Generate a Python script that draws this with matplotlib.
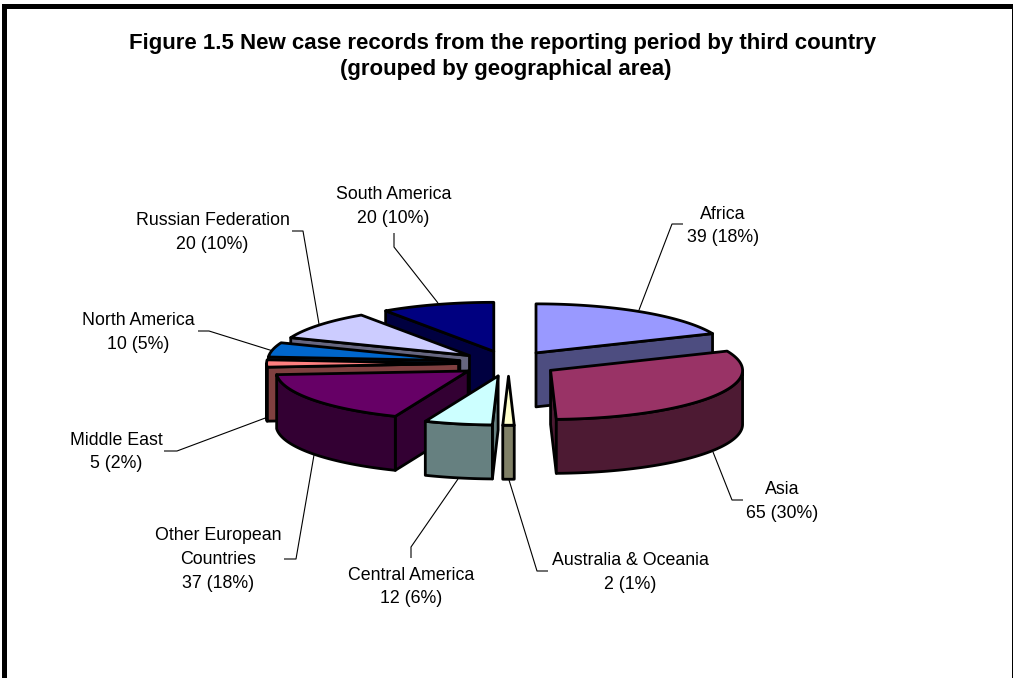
import numpy as np
import matplotlib
matplotlib.use("Agg")
import matplotlib.pyplot as plt
from matplotlib.patches import Polygon

plt.rcParams['font.family'] = ['Liberation Sans', 'DejaVu Sans']

# ---- data ----
categories = ["Africa", "Asia", "Australia & Oceania", "Central America",
              "Other European\nCountries", "Middle East", "North America",
              "Russian Federation", "South America"]
values = [39, 65, 2, 12, 37, 5, 10, 20, 20]
percent_labels = ["18%", "30%", "1%", "6%", "18%", "2%", "5%", "10%", "10%"]
title_lines = ["Figure 1.5 New case records from the reporting period by third country",
               "(grouped by geographical area)"]

top_colors = ["#9999FF", "#993366", "#FFFFCC", "#CCFFFF", "#660066",
              "#FF8080", "#0066CC", "#CCCCFF", "#000080"]
side_colors = ["#4D4D80", "#4D1A33", "#808066", "#668080", "#330033",
               "#804040", "#003366", "#666680", "#000040"]

# ---- layout ----
W, H = 1013, 678
CX, CY = 508.5, 363.5
RX, RY = 192.0, 49.0
DEPTH = 54.0
EXPLODE = 0.26
LABEL_DY = 1.5

label_pos = [(723, 224.5), (782, 500), (630, 571), (411, 585.5), (218, 558),
             (116, 450.5), (138.5, 331), (212.5, 231), (393.5, 205)]
leaders = [
    [(683, 224), (672, 224), (639, 310)],
    [(743, 500), (732, 500), (713, 452)],
    [(548, 571), (537, 571), (509, 480)],
    [(411, 558), (411, 547), (458, 479)],
    [(284, 559), (296, 559), (314, 455)],
    [(164, 451), (177, 451), (268, 417)],
    [(198, 331), (209, 331), (273, 351)],
    [(292, 231), (303, 231), (319, 324)],
    [(394, 233), (394, 247), (438, 303)],
]

fig = plt.figure(figsize=(W / 100, H / 100), dpi=100, facecolor="white")
ax = fig.add_axes([0, 0, 1, 1])
ax.set_xlim(0, W)
ax.set_ylim(H, 0)
ax.axis("off")

# outer frame (top, left, right edges only are inside the crop)
ax.fill_between([2, 1013], 4, 9, color="black", lw=0, zorder=1)
ax.fill_between([2, 7], 4, H, color="black", lw=0, zorder=1)
ax.fill_between([1012, 1013], 4, H, color="black", lw=0, zorder=1)

for (tx, ty), line in zip([(503, 43), (506, 69)], title_lines):
    ax.text(tx, ty, line, ha="center", va="center", fontsize=16.0,
            fontweight="bold", color="black", zorder=5)


def pt(cx, cy, th):
    return (cx + RX * np.sin(th), cy - RY * np.cos(th))


total = float(sum(values))
edges = np.concatenate([[0.0], np.cumsum(values)]) / total * 2 * np.pi
slices = []
for i in range(len(values)):
    t0, t1 = edges[i], edges[i + 1]
    tm = (t0 + t1) / 2
    cx = CX + EXPLODE * RX * np.sin(tm)
    cy = CY - EXPLODE * RY * np.cos(tm)
    slices.append((i, t0, t1, cx, cy))

# back to front painter's order
order = [8, 7, 6, 5, 0, 4, 1, 3, 2]
edge_kw = dict(edgecolor="black", linewidth=2.0, joinstyle="round")
for z, i in enumerate(order):
    _, t0, t1, cx, cy = slices[i]
    zb = 2 + z * 0.01
    arc = np.linspace(t0, t1, 80)
    top = [(cx, cy)] + [pt(cx, cy, t) for t in arc]
    # radial walls
    for th, visible in ((t0, np.sin(t0) < -1e-9), (t1, np.sin(t1) > 1e-9)):
        if visible:
            p = pt(cx, cy, th)
            ax.add_patch(Polygon([(cx, cy), p, (p[0], p[1] + DEPTH), (cx, cy + DEPTH)],
                                 closed=True, facecolor=side_colors[i], zorder=zb, **edge_kw))
    # outer wall
    lo, hi = max(t0, np.pi / 2), min(t1, 3 * np.pi / 2)
    if hi > lo:
        a2 = np.linspace(lo, hi, 80)
        upper = [pt(cx, cy, t) for t in a2]
        lower = [(x, y + DEPTH) for x, y in upper][::-1]
        ax.add_patch(Polygon(upper + lower, closed=True, facecolor=side_colors[i],
                             zorder=zb + 0.001, **edge_kw))
    ax.add_patch(Polygon(top, closed=True, facecolor=top_colors[i], zorder=zb + 0.002, **edge_kw))

for i, (name, val, pc) in enumerate(zip(categories, values, percent_labels)):
    ax.text(label_pos[i][0], label_pos[i][1] + LABEL_DY, f"{name}\n{val} ({pc})", ha="center",
            va="center", fontsize=12.8, linespacing=1.53, color="black", zorder=6)
    xs, ys = zip(*leaders[i])
    ax.plot(xs, ys, color="black", lw=0.8, zorder=1.5, solid_capstyle="butt")

fig.savefig("out.png", dpi=100)
